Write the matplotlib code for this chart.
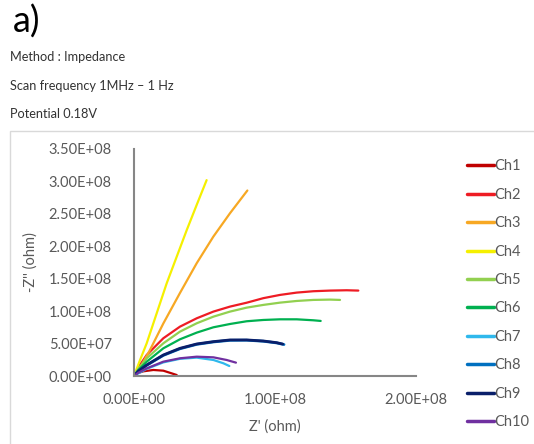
import matplotlib.pyplot as plt
from matplotlib.patches import Rectangle

# Nyquist curves, values in units of 1e8 ohm
labels = ['Ch1', 'Ch2', 'Ch3', 'Ch4', 'Ch5', 'Ch6', 'Ch7', 'Ch8', 'Ch9', 'Ch10']
colors = ['#C00000', '#EE1C24', '#F7A823', '#F5F000', '#92D050',
          '#00B050', '#2FB8EC', '#0070C0', '#0A1F6A', '#7030A0']

ch1_x = [0, 0.02, 0.066, 0.137, 0.208, 0.267, 0.303]
ch1_y = [0, 0.04, 0.072, 0.093, 0.082, 0.041, 0.015]
ch2_x = [0, 0.03, 0.09, 0.208, 0.326, 0.445, 0.563, 0.681, 0.799, 0.917,
         1.035, 1.154, 1.272, 1.390, 1.508, 1.591]
ch2_y = [0, 0.13, 0.324, 0.582, 0.761, 0.890, 0.993, 1.07, 1.13, 1.20,
         1.25, 1.286, 1.307, 1.317, 1.322, 1.317]
ch3_x = [0, 0.054, 0.113, 0.208, 0.326, 0.445, 0.563, 0.681, 0.804]
ch3_y = [0, 0.17, 0.40, 0.81, 1.28, 1.74, 2.15, 2.51, 2.86]
ch4_x = [0, 0.043, 0.090, 0.161, 0.232, 0.303, 0.374, 0.445, 0.515]
ch4_y = [0, 0.247, 0.504, 0.967, 1.43, 1.84, 2.25, 2.64, 3.02]
ch5_x = [0, 0.03, 0.09, 0.208, 0.326, 0.445, 0.563, 0.681, 0.799, 0.917,
         1.035, 1.154, 1.272, 1.390, 1.461]
ch5_y = [0, 0.11, 0.273, 0.504, 0.684, 0.813, 0.915, 0.993, 1.054, 1.096,
         1.131, 1.157, 1.173, 1.178, 1.173]
ch6_x = [0, 0.03, 0.09, 0.208, 0.326, 0.445, 0.563, 0.681, 0.799, 0.917,
         1.035, 1.154, 1.272, 1.324]
ch6_y = [0, 0.09, 0.221, 0.427, 0.566, 0.669, 0.751, 0.802, 0.844, 0.864,
         0.874, 0.874, 0.859, 0.849]
ch7_x = [0, 0.03, 0.09, 0.208, 0.326, 0.445, 0.563, 0.634, 0.676]
ch7_y = [0, 0.04, 0.11, 0.21, 0.265, 0.283, 0.247, 0.196, 0.154]
ch8_x = [0, 0.03, 0.09, 0.208, 0.326, 0.445, 0.563, 0.681, 0.799, 0.917,
         1.012, 1.064]
ch8_y = [0, 0.07, 0.165, 0.318, 0.42, 0.488, 0.525, 0.55, 0.552, 0.536,
         0.51, 0.485]
ch9_x = [0, 0.03, 0.09, 0.208, 0.326, 0.445, 0.563, 0.681, 0.799, 0.917,
         1.012, 1.055]
ch9_y = [0, 0.075, 0.170, 0.324, 0.427, 0.494, 0.530, 0.556, 0.556, 0.540,
         0.514, 0.492]
ch10_x = [0, 0.03, 0.09, 0.208, 0.326, 0.445, 0.563, 0.657, 0.723]
ch10_y = [0, 0.05, 0.118, 0.221, 0.273, 0.298, 0.288, 0.247, 0.206]

xs = [ch1_x, ch2_x, ch3_x, ch4_x, ch5_x, ch6_x, ch7_x, ch8_x, ch9_x, ch10_x]
ys = [ch1_y, ch2_y, ch3_y, ch4_y, ch5_y, ch6_y, ch7_y, ch8_y, ch9_y, ch10_y]

y_ticks = [0, 0.5, 1.0, 1.5, 2.0, 2.5, 3.0, 3.5]
y_ticklabels = ['0.00E+00', '5.00E+07', '1.00E+08', '1.50E+08', '2.00E+08',
                '2.50E+08', '3.00E+08', '3.50E+08']
x_ticks = [0, 1.0, 2.0]
x_ticklabels = ['0.00E+00', '1.00E+08', '2.00E+08']

plt.rcParams['font.family'] = ['Lato', 'DejaVu Sans']

fig = plt.figure(figsize=(5.34, 4.44), dpi=100)
fig.patches.append(Rectangle((10 / 534, -0.1), 1.2, 1 - 131 / 444 + 0.1,
                             transform=fig.transFigure, fill=False,
                             ec='#D9D9D9', lw=1))

fig.text(13 / 534, 1 - 22 / 444, 'a)', fontsize=26, va='center', ha='left')
fig.text(10 / 534, 1 - 57 / 444, 'Method : Impedance', fontsize=9.2, va='center', color='#333333')
fig.text(10 / 534, 1 - 86 / 444, 'Scan frequency 1MHz \u2013 1 Hz', fontsize=9.2, va='center', color='#333333')
fig.text(10 / 534, 1 - 114 / 444, 'Potential 0.18V', fontsize=9.2, va='center', color='#333333')

ax = fig.add_axes([134 / 534, 1 - 376 / 444, (416 - 134) / 534, (376 - 149) / 444])
for x, y, c, lab in zip(xs, ys, colors, labels):
    lw = 2.0 if lab in ('Ch8', 'Ch9') else 1.6
    ax.plot(x, y, color=c, lw=lw, label=lab, solid_capstyle='round')

ax.set_xlim(0, 2.0)
ax.set_ylim(0, 3.5)
ax.set_xticks(x_ticks)
ax.set_xticklabels(x_ticklabels)
ax.set_yticks(y_ticks)
ax.set_yticklabels(y_ticklabels)
ax.tick_params(length=0, labelsize=10.5, labelcolor='#595959')
ax.tick_params(axis='y', pad=16)
ax.tick_params(axis='x', pad=12)
for s in ['top', 'right']:
    ax.spines[s].set_visible(False)
for s in ['left', 'bottom']:
    ax.spines[s].set_color('#868686')
    ax.spines[s].set_linewidth(1.5)
ax.set_ylabel("-Z'' (ohm)", fontsize=10.5, color='#595959')
ax.set_xlabel("Z' (ohm)", fontsize=10.5, color='#595959', labelpad=9)
ax.yaxis.set_label_coords(-0.34, 0.5)

leg = fig.legend(loc='upper left', bbox_to_anchor=(460 / 534, 1 - 152 / 444),
                 frameon=False, fontsize=10.5, handlelength=1.8, handletextpad=0.05,
                 labelspacing=0.99, borderpad=0)
for h in leg.get_lines():
    h.set_linewidth(2.5)
for t in leg.get_texts():
    t.set_color('#595959')

fig.savefig('out.png', dpi=100)
